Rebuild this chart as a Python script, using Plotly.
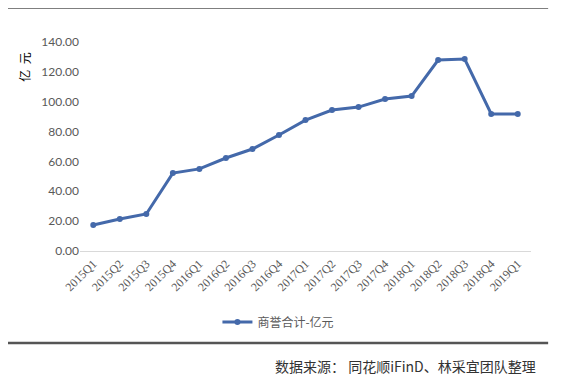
import plotly.graph_objects as go

quarters = ["2015Q1", "2015Q2", "2015Q3", "2015Q4", "2016Q1", "2016Q2", "2016Q3", "2016Q4",
            "2017Q1", "2017Q2", "2017Q3", "2017Q4", "2018Q1", "2018Q2", "2018Q3", "2018Q4", "2019Q1"]
goodwill = [17.4, 21.4, 24.8, 52.2, 55.0, 62.3, 68.3, 77.7,
            87.7, 94.4, 96.4, 101.8, 103.8, 127.9, 128.6, 91.8, 91.8]
y_ticks = [0, 20, 40, 60, 80, 100, 120, 140]
series_name = "商誉合计-亿元"
y_title = "亿  元"
source_text = "数据来源： 同花顺iFinD、林采宜团队整理"

fig = go.Figure()
fig.add_trace(go.Scatter(
    x=quarters, y=goodwill, mode="lines+markers", name=series_name,
    line=dict(color="#4469aa", width=3),
    marker=dict(color="#4469aa", size=6),
))

fig.update_layout(
    width=554, height=383,
    margin=dict(l=72, r=31, t=34, b=140, autoexpand=False),
    paper_bgcolor="white", plot_bgcolor="white",
    showlegend=True,
    legend=dict(orientation="h", x=0.44, y=-0.34, xanchor="center", yanchor="middle",
                font=dict(family="Noto Sans CJK SC", size=12, color="#595959")),
    xaxis=dict(type="category", range=[-0.5, len(quarters) - 0.5], tickangle=-45,
               showgrid=False, showline=True,
               linecolor="#d9d9d9", linewidth=1, ticks="", automargin=False,
               tickfont=dict(family="Liberation Serif", size=12, color="#595959")),
    yaxis=dict(range=[0, 140], tickvals=y_ticks, tickformat=".2f", showgrid=False,
               zeroline=False, showline=False, ticks="", ticklen=0, automargin=False,
               tickfont=dict(family="Lato", size=12, color="#595959")),
    font=dict(family="Noto Sans CJK SC"),
)

fig.add_annotation(text=y_title, textangle=-90, xref="paper", yref="paper",
                   x=-0.125, y=0.88, showarrow=False, xanchor="center", yanchor="middle",
                   font=dict(family="Noto Sans CJK SC", size=12, color="#000000"))
fig.add_annotation(text=source_text, xref="paper", yref="paper",
                   x=1.015, y=-0.55, showarrow=False, xanchor="right", yanchor="middle",
                   font=dict(family="Noto Sans CJK SC", size=14, color="#333333"))

fig.add_shape(type="line", xref="paper", yref="paper", x0=-0.18, x1=1.038, y0=1.163, y1=1.163,
              line=dict(color="#555555", width=1.5))
fig.add_shape(type="line", xref="paper", yref="paper", x0=-0.18, x1=1.038, y0=-0.44, y1=-0.44,
              line=dict(color="#555555", width=2.5))

fig.write_html("out.html")
